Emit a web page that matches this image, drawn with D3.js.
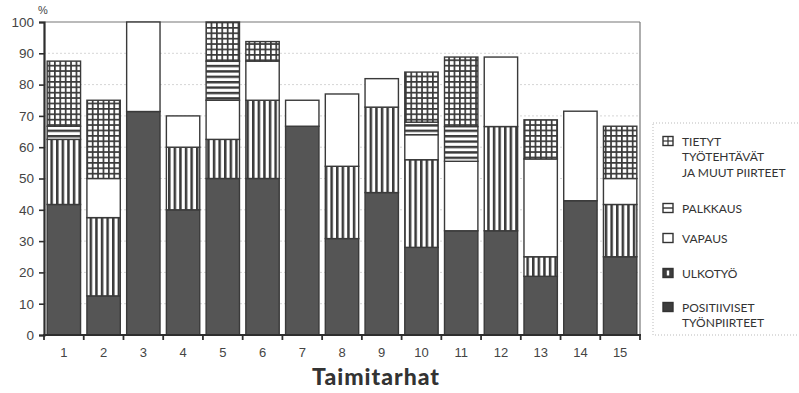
<!DOCTYPE html>
<html>
<head>
<meta charset="utf-8">
<script src="https://cdn.jsdelivr.net/npm/d3@7"></script>
<style>
  html, body { margin: 0; padding: 0; background: #fff; }
  svg { display: block; }
</style>
</head>
<body>
<svg id="chart" width="799" height="393"></svg>
<script>
// Nursery-by-nursery share (%) of reasons given, stacked bottom to top
const categories = ["1","2","3","4","5","6","7","8","9","10","11","12","13","14","15"];
const positiiviset = [41.7, 12.5, 71.4, 40, 50, 50, 66.7, 30.8, 45.5, 28, 33.3, 33.3, 18.75, 42.9, 25];
const ulkotyo      = [20.8, 25, 0, 20, 12.5, 25, 0, 23.1, 27.3, 28, 0, 33.3, 6.25, 0, 16.7];
const vapaus       = [0, 12.5, 28.6, 10, 12.5, 12.5, 8.3, 23.1, 9.1, 8, 22.2, 22.2, 31.25, 28.6, 8.3];
const palkkaus     = [4.2, 0, 0, 0, 12.5, 0, 0, 0, 0, 4, 11.1, 0, 0, 0, 0];
const tietyt       = [20.8, 25, 0, 0, 12.5, 6.25, 0, 0, 0, 16, 22.2, 0, 12.5, 0, 16.7];
const yTicks = [0, 10, 20, 30, 40, 50, 60, 70, 80, 90, 100];

const seriesKeys = ["positiiviset", "ulkotyo", "vapaus", "palkkaus", "tietyt"];
const seriesData = { positiiviset, ulkotyo, vapaus, palkkaus, tietyt };
const fills = {
  positiiviset: "#555",
  ulkotyo: "url(#vstripe)",
  vapaus: "#fff",
  palkkaus: "url(#hstripe)",
  tietyt: "url(#grid)"
};

const rows = categories.map((c, i) => {
  const r = { cat: c };
  seriesKeys.forEach(k => r[k] = seriesData[k][i]);
  return r;
});

const svg = d3.select("#chart");
const plotL = 44, plotR = 640, plotT = 22, plotB = 335;
const ink = "#3a3a3a";

// Fill patterns
const defs = svg.append("defs");
const vp = defs.append("pattern").attr("id", "vstripe")
  .attr("patternUnits", "userSpaceOnUse").attr("width", 5.6).attr("height", 10);
vp.append("rect").attr("width", 5.6).attr("height", 10).attr("fill", "#fff");
vp.append("rect").attr("x", 0).attr("width", 2.5).attr("height", 10).attr("fill", ink);

const hp = defs.append("pattern").attr("id", "hstripe")
  .attr("patternUnits", "userSpaceOnUse").attr("width", 10).attr("height", 5.4);
hp.append("rect").attr("width", 10).attr("height", 5.4).attr("fill", "#fff");
hp.append("rect").attr("y", 0).attr("width", 10).attr("height", 2.4).attr("fill", ink);

const gp = defs.append("pattern").attr("id", "grid")
  .attr("patternUnits", "userSpaceOnUse").attr("width", 5.4).attr("height", 5.4);
gp.append("rect").attr("width", 5.4).attr("height", 5.4).attr("fill", "#fff");
gp.append("rect").attr("width", 1.7).attr("height", 5.4).attr("fill", ink);
gp.append("rect").attr("width", 5.4).attr("height", 1.7).attr("fill", ink);

const x = d3.scaleBand().domain(categories).range([plotL, plotR])
  .paddingInner(0.16).paddingOuter(0.08);
const y = d3.scaleLinear().domain([0, 100]).range([plotB, plotT]);

// Horizontal gridlines
svg.append("g").selectAll("line").data(yTicks.filter(t => t > 0 && t < 100)).join("line")
  .attr("x1", plotL).attr("x2", plotR)
  .attr("y1", d => y(d)).attr("y2", d => y(d))
  .attr("stroke", "#d6d6d6").attr("stroke-width", 1).attr("stroke-dasharray", "2,2");

// Frame (top and right)
svg.append("line").attr("x1", plotL).attr("x2", plotR).attr("y1", y(100)).attr("y2", y(100))
  .attr("stroke", "#777").attr("stroke-width", 1.2);
svg.append("line").attr("x1", plotR).attr("x2", plotR).attr("y1", y(100)).attr("y2", plotB)
  .attr("stroke", "#777").attr("stroke-width", 1.2);

// Stacked bars
const stack = d3.stack().keys(seriesKeys)(rows);
svg.append("g").selectAll("g").data(stack).join("g")
  .attr("fill", d => fills[d.key])
  .selectAll("rect").data(d => d.filter(p => p[1] - p[0] > 0)).join("rect")
  .attr("x", d => x(d.data.cat))
  .attr("width", x.bandwidth())
  .attr("y", d => y(d[1]))
  .attr("height", d => y(d[0]) - y(d[1]))
  .attr("stroke", ink).attr("stroke-width", 1.4);

// Y axis
const yAxis = svg.append("g").attr("transform", `translate(${plotL},0)`)
  .call(d3.axisLeft(y).tickValues(yTicks).tickSize(5).tickPadding(5));
yAxis.select(".domain").attr("stroke", "#2e2e2e").attr("stroke-width", 2.2);
yAxis.selectAll(".tick line").attr("stroke", "#2e2e2e").attr("stroke-width", 1.6);
yAxis.selectAll("text").attr("font-family", "'Liberation Sans', Arial, sans-serif")
  .attr("font-size", 13.5).attr("fill", "#444");

// X axis: ticks at category boundaries, labels centred under bars
const xEdge = d3.scaleLinear().domain([0, categories.length]).range([plotL, plotR]);
const xAxis = svg.append("g").attr("transform", `translate(0,${plotB})`);
xAxis.append("line").attr("x1", plotL - 1).attr("x2", plotR + 1)
  .attr("stroke", "#2e2e2e").attr("stroke-width", 2.2);
xAxis.selectAll("line.tk").data(d3.range(categories.length + 1)).join("line")
  .attr("class", "tk")
  .attr("x1", d => xEdge(d)).attr("x2", d => xEdge(d))
  .attr("y1", 0).attr("y2", 5)
  .attr("stroke", "#2e2e2e").attr("stroke-width", 1.8);
xAxis.selectAll("text").data(categories).join("text")
  .attr("x", d => x(d) + x.bandwidth() / 2).attr("y", 22)
  .attr("text-anchor", "middle")
  .attr("font-family", "'Liberation Sans', Arial, sans-serif")
  .attr("font-size", 13).attr("fill", "#444")
  .text(d => d);

// Unit label
svg.append("text").attr("x", 43).attr("y", 14).attr("text-anchor", "middle")
  .attr("font-family", "'Liberation Sans', Arial, sans-serif")
  .attr("font-size", 11).attr("fill", "#444").text("%");

// Axis title
svg.append("text").attr("x", 376).attr("y", 385).attr("text-anchor", "middle")
  .attr("font-family", "Lato, 'Open Sans', sans-serif").attr("font-weight", 900)
  .attr("font-size", 23).attr("letter-spacing", 1).attr("fill", "#333").text("Taimitarhat");

// Legend
const lg = svg.append("g");
lg.append("rect").attr("x", 653).attr("y", 123).attr("width", 170).attr("height", 212)
  .attr("fill", "none").attr("stroke", "#bbb").attr("stroke-width", 1)
  .attr("stroke-dasharray", "1,2");

const legendItems = [
  { key: "tietyt", lines: ["TIETYT", "TYÖTEHTÄVÄT", "JA MUUT PIIRTEET"], cy: 141 },
  { key: "palkkaus", lines: ["PALKKAUS"], cy: 208 },
  { key: "vapaus", lines: ["VAPAUS"], cy: 238 },
  { key: "ulkotyo", lines: ["ULKOTYÖ"], cy: 273 },
  { key: "positiiviset", lines: ["POSITIIVISET", "TYÖNPIIRTEET"], cy: 307 }
];
const ix = 663, iw = 10, ih = 9;
legendItems.forEach(it => {
  const g = lg.append("g");
  const y0 = it.cy - ih / 2;
  const dark = it.key === "positiiviset" || it.key === "ulkotyo";
  g.append("rect").attr("x", ix).attr("y", y0).attr("width", iw).attr("height", ih)
    .attr("fill", dark ? "#3d3d3d" : "#fff").attr("stroke", "#333").attr("stroke-width", 1.4);
  if (it.key === "tietyt") {
    g.append("line").attr("x1", ix).attr("x2", ix + iw).attr("y1", it.cy).attr("y2", it.cy)
      .attr("stroke", "#333").attr("stroke-width", 1.2);
    g.append("line").attr("x1", ix + iw / 2).attr("x2", ix + iw / 2).attr("y1", y0).attr("y2", y0 + ih)
      .attr("stroke", "#333").attr("stroke-width", 1.2);
  } else if (it.key === "palkkaus") {
    g.append("line").attr("x1", ix).attr("x2", ix + iw).attr("y1", it.cy).attr("y2", it.cy)
      .attr("stroke", "#333").attr("stroke-width", 1.4);
  } else if (it.key === "ulkotyo") {
    g.append("rect").attr("x", ix + iw / 2 - 1.2).attr("y", y0 + 2).attr("width", 2.4).attr("height", ih - 4)
      .attr("fill", "#fff");
  }
  it.lines.forEach((t, j) => {
    g.append("text").attr("x", 682).attr("y", it.cy + 4.5 + j * 15.5)
      .attr("font-family", "Lato, 'Open Sans', sans-serif")
      .attr("font-size", 12).attr("fill", "#333").text(t);
  });
});
</script>
</body>
</html>
